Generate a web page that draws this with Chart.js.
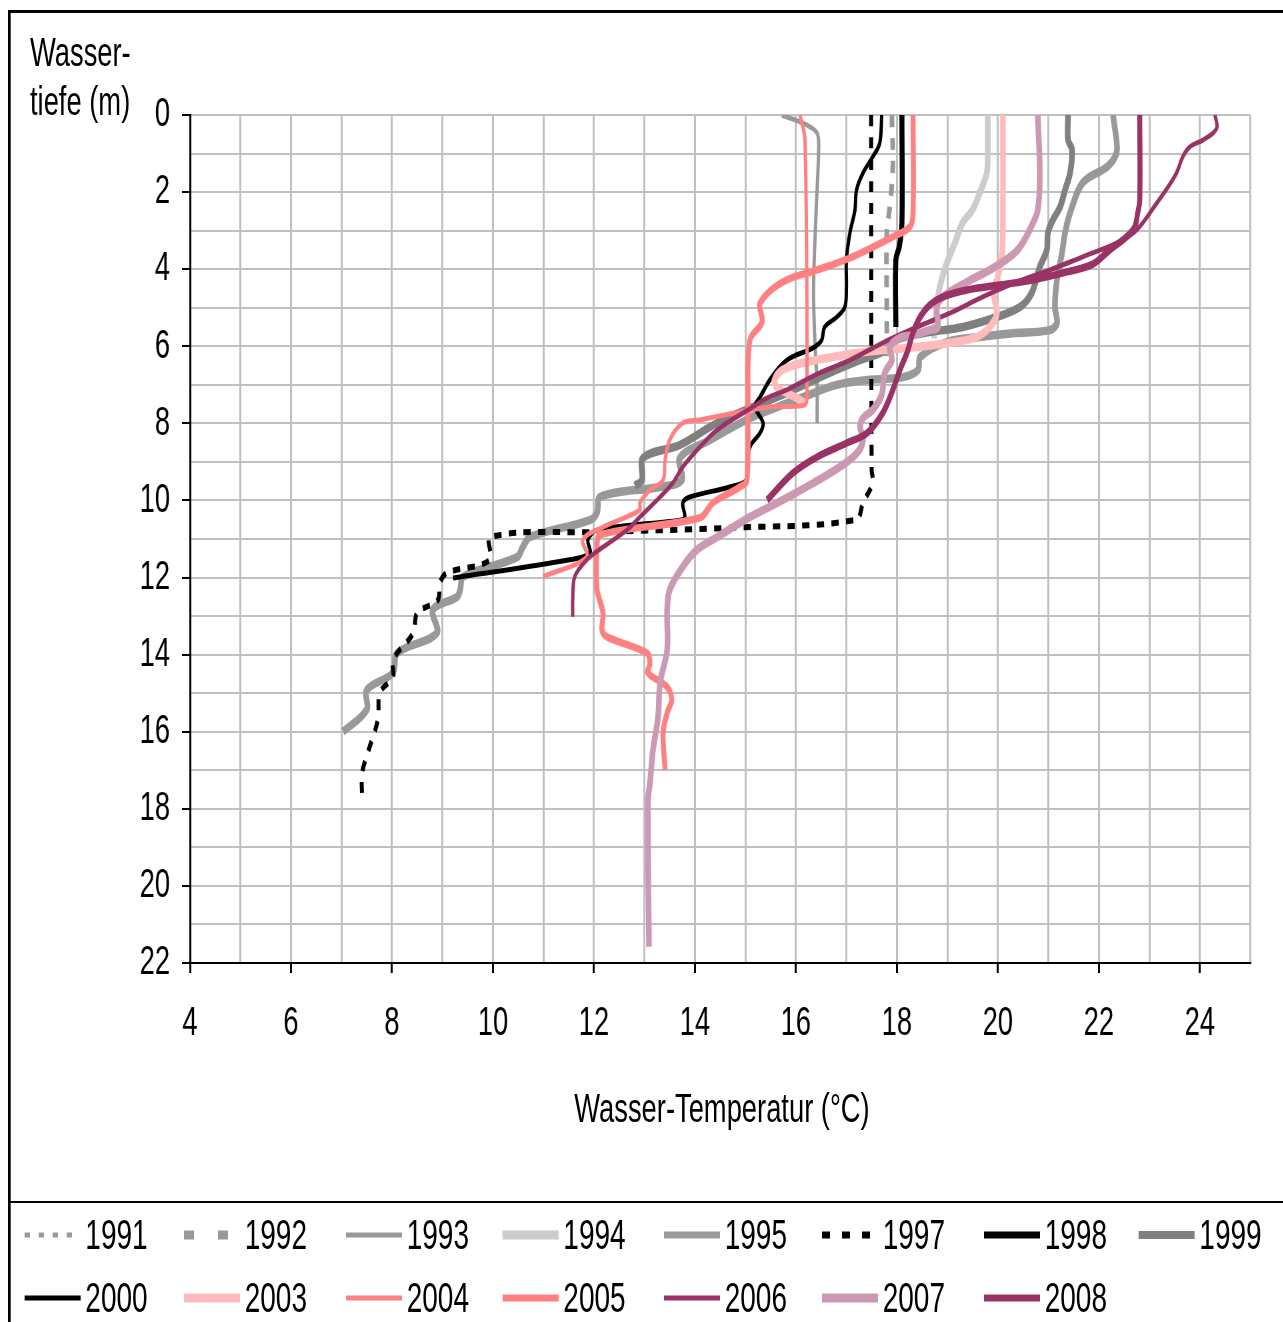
<!DOCTYPE html>
<html><head><meta charset="utf-8">
<script src="https://cdn.jsdelivr.net/npm/chart.js@4.4.1/dist/chart.umd.min.js"></script>
<style>
html,body{margin:0;padding:0;background:#fff;overflow:hidden;width:1283px;height:1322px;}
#wrap{position:absolute;left:0;top:0;width:1925px;height:1322px;overflow:hidden;transform:scaleX(0.6666667);transform-origin:0 0;font-family:"Liberation Sans",Arial,sans-serif;color:#000;}
#frame{position:absolute;left:12px;top:10px;width:1960px;height:1340px;border-top:3px solid #000;border-left:4px solid #000;box-sizing:border-box;}
#sep{position:absolute;left:12px;top:1201px;width:1960px;height:0;border-top:2px solid #000;}
#c{position:absolute;left:0;top:0;}
.txt{position:absolute;font-size:41px;line-height:1;white-space:nowrap;}
.leg{position:absolute;display:flex;align-items:center;height:44px;font-size:42px;white-space:nowrap;}
.leg canvas{display:block;}
</style></head><body>
<div id="wrap">
<div id="frame"></div><div id="sep"></div>
<canvas id="c" width="1925" height="1322"></canvas>
<div class="txt" style="left:45px;top:28px;line-height:49px">Wasser-<br>tiefe (m)</div>
<div class="txt" style="left:0;width:2166px;text-align:center;top:1088px;">Wasser-Temperatur (°C)</div>
<div id="legend"></div>
</div>
<script>
// ---- data: temperature (°C) and depth (m) per year ----
const temp1991 = [];
const depth1991 = [];
const temp1992 = [17.9, 17.92, 17.86, 17.8, 17.8, 17.78];
const depth1992 = [0, 1.35, 2.39, 3.06, 5.58, 6.45];
const temp1993 = [15.72, 16.2, 16.42, 16.45, 16.4, 16.35, 16.38, 16.42, 16.42];
const depth1993 = [0, 0.25, 0.47, 0.91, 2.5, 4.5, 6, 7, 8.0];
const temp1994 = [19.8, 19.8, 19.78, 19.64, 19.5, 19.3, 19.15, 18.99, 18.85, 18.79, 18.75, 18.73];
const depth1994 = [0, 0.9, 1.5, 2.02, 2.46, 2.8, 3.32, 3.84, 4.46, 4.98, 5.5, 5.8];
const temp1995 = [22.28, 22.36, 22.32, 22.16, 21.68, 21.43, 21.33, 21.27, 21.17, 21.13, 21.17, 21.03, 20.3, 19.64, 18.99, 18.46, 18.42, 18.12, 17.47, 16.81, 16.14, 15.49, 15.09, 14.3, 13.7, 13.74, 13.31, 12.12, 12.06, 11.92, 10.73, 10.59, 10.48, 9.41, 9.35, 9.29, 8.81, 8.89, 8.1, 8.02, 7.5, 7.5, 7.03];
const depth1995 = [0, 0.83, 1.09, 1.35, 1.76, 2.54, 3.06, 3.58, 4.28, 4.98, 5.4, 5.58, 5.66, 5.76, 5.89, 6.28, 6.61, 6.8, 6.87, 7.0, 7.32, 7.65, 7.86, 8.43, 8.9, 9.47, 9.65, 9.91, 10.32, 10.51, 10.95, 11.21, 11.47, 11.98, 12.32, 12.5, 12.84, 13.44, 13.96, 14.47, 14.92, 15.43, 16.0];
const temp1997 = [17.49, 17.5, 17.52, 17.33, 17.2, 14.69, 12.1, 9.94, 9.94, 9.09, 8.95, 8.91, 8.5, 8.42, 8.02, 8.02, 7.76, 7.72, 7.52, 7.41, 7.41];
const depth1997 = [0, 9.2, 9.55, 10.06, 10.5, 10.71, 10.82, 10.95, 11.54, 11.88, 12.14, 12.58, 12.92, 13.44, 14.14, 14.58, 14.99, 15.69, 16.55, 17.07, 17.77];
const temp1998 = [18.1, 18.1, 18.05, 17.98, 17.98];
const depth1998 = [0, 2.8, 3.4, 3.75, 5.5];
const temp1999 = [21.39, 21.39, 21.47, 21.43, 21.33, 21.23, 21.09, 20.99, 20.97, 20.83, 20.67, 20.44, 19.98, 19.31, 18.51, 17.98, 17.78, 17.13, 16.48, 15.82, 15.49, 14.44, 13.7, 12.97, 12.95, 12.81];
const depth1999 = [0, 0.65, 0.91, 1.5, 1.95, 2.39, 2.72, 3.06, 3.5, 3.94, 4.62, 4.98, 5.24, 5.5, 5.66, 5.84, 6.1, 6.43, 6.8, 7.21, 7.39, 7.99, 8.56, 8.9, 9.47, 9.62];
const temp2000 = [17.7, 17.66, 17.52, 17.33, 17.2, 17.17, 17.07, 17.0, 17.0, 16.97, 16.81, 16.57, 16.51, 16.34, 15.82, 15.52, 15.29, 15.19, 15.35, 15.29, 15.09, 15.03, 15.03, 14.69, 13.9, 13.76, 13.8, 13.7, 12.06, 11.88, 11.92, 11.52, 9.21];
const depth2000 = [0, 0.73, 1.09, 1.5, 1.95, 2.46, 3.06, 3.76, 4.46, 4.98, 5.24, 5.5, 5.84, 6.04, 6.36, 6.8, 7.32, 7.57, 7.99, 8.25, 8.61, 9.13, 9.47, 9.65, 9.91, 10.06, 10.43, 10.51, 10.77, 11.02, 11.36, 11.54, 12.01];
const temp2003 = [20.1, 20.1, 20.08, 19.98, 19.9, 19.98, 19.84, 19.58, 19.05, 18.4, 17.72, 17.07, 16.14, 15.74, 15.58, 15.62, 15.82, 16.08, 16.2];
const depth2003 = [0, 2.2, 3.68, 4.28, 4.54, 5.14, 5.5, 5.76, 5.91, 6.02, 6.1, 6.2, 6.43, 6.61, 6.87, 7.06, 7.21, 7.39, 7.5];
const temp2004 = [16.08, 16.18, 16.22, 16.18, 15.49, 14.1, 13.76, 13.5, 13.41, 13.37, 13.11, 12.91, 12.91, 12.18, 11.78, 11.86, 10.99];
const depth2004 = [0, 0.65, 7.26, 7.52, 7.57, 7.91, 7.99, 8.43, 8.95, 9.47, 9.73, 10.06, 10.25, 10.69, 11.02, 11.47, 11.98];
const temp2005 = [18.32, 18.32, 18.26, 17.92, 17.07, 16.42, 15.74, 15.29, 15.33, 15.09, 15.05, 15.03, 14.89, 14.36, 14.1, 12.12, 12.06, 12.06, 12.18, 12.16, 12.26, 13.05, 13.11, 13.07, 13.45, 13.54, 13.45, 13.37, 13.41];
const depth2005 = [0, 2.54, 2.9, 3.16, 3.71, 4.02, 4.33, 4.88, 5.37, 5.84, 7.39, 9.47, 9.65, 10.06, 10.45, 10.89, 11.21, 12.3, 12.92, 13.36, 13.54, 13.96, 14.22, 14.47, 14.84, 15.17, 15.51, 16.03, 16.99];
const temp2006 = [24.3, 24.34, 24.26, 24.06, 23.8, 23.66, 23.54, 23.37, 23.15, 22.75, 22.36, 21.68, 21.03, 20.38, 19.7, 19.05, 18.4, 17.72, 17.07, 16.42, 15.82, 15.43, 15.15, 14.44, 14.1, 13.76, 13.56, 13.31, 12.91, 12.65, 12.18, 11.86, 11.62, 11.58, 11.58];
const depth2006 = [0, 0.31, 0.47, 0.65, 0.83, 1.09, 1.5, 1.87, 2.28, 2.98, 3.32, 3.68, 4.02, 4.33, 4.72, 5.14, 5.5, 5.91, 6.36, 6.72, 7.13, 7.34, 7.57, 8.17, 8.61, 9.13, 9.55, 9.91, 10.43, 10.77, 11.21, 11.54, 11.98, 12.58, 13.02];
const temp2007 = [20.79, 20.83, 20.79, 20.63, 20.44, 20.24, 19.84, 19.39, 18.91, 18.79, 18.81, 18.65, 18.32, 18.06, 17.86, 17.9, 17.76, 17.7, 17.52, 17.33, 17.27, 17.33, 17.21, 16.87, 16.34, 15.74, 15.09, 14.44, 14.04, 13.76, 13.5, 13.45, 13.45, 13.31, 13.27, 13.17, 13.11, 13.07, 13.09];
const depth2007 = [0, 1.5, 2.46, 2.98, 3.42, 3.68, 4.02, 4.33, 4.72, 4.98, 5.5, 5.58, 5.71, 5.78, 6.02, 6.36, 6.69, 7.26, 7.65, 7.86, 8.09, 8.43, 8.77, 9.13, 9.55, 9.99, 10.43, 10.95, 11.28, 11.72, 12.32, 12.84, 13.88, 14.73, 15.62, 16.47, 17.33, 17.77, 21.58];
const temp2008 = [22.81, 22.81, 22.77, 22.71, 22.55, 22.22, 21.88, 21.37, 20.69, 20.04, 19.39, 18.91, 18.65, 18.46, 18.32, 18.2, 18.06, 17.92, 17.72, 17.41, 17.01, 16.42, 15.94, 15.43];
const depth2008 = [0, 2.2, 2.54, 2.9, 3.16, 3.5, 3.87, 4.07, 4.28, 4.41, 4.54, 4.72, 4.93, 5.24, 5.65, 6.17, 6.61, 7.13, 7.73, 8.25, 8.51, 8.87, 9.29, 9.99];

const years = ['1991','1992','1993','1994','1995','1997','1998','1999','2000','2003','2004','2005','2006','2007','2008'];
const xTickLabels = [4, 6, 8, 10, 12, 14, 16, 18, 20, 22, 24];
const yTickLabels = [0, 2, 4, 6, 8, 10, 12, 14, 16, 18, 20, 22];

const series = {
  '1991':[temp1991,depth1991],'1992':[temp1992,depth1992],'1993':[temp1993,depth1993],
  '1994':[temp1994,depth1994],'1995':[temp1995,depth1995],'1997':[temp1997,depth1997],
  '1998':[temp1998,depth1998],'1999':[temp1999,depth1999],'2000':[temp2000,depth2000],
  '2003':[temp2003,depth2003],'2004':[temp2004,depth2004],'2005':[temp2005,depth2005],
  '2006':[temp2006,depth2006],'2007':[temp2007,depth2007],'2008':[temp2008,depth2008]
};

// ---- styles (page is drawn 1.5x wide and compressed horizontally) ----
const styles = {
 '1991': {color:'#999999', width:4, dash:[4,8], legW:5, legDash:[8,13]},
 '1992': {color:'#999999', width:7, dash:[12,11], legW:9, legDash:[15,36]},
 '1993': {color:'#999999', width:5, dash:[], legW:5, legDash:[]},
 '1994': {color:'#cccccc', width:8.5, dash:[], legW:9, legDash:[]},
 '1995': {color:'#999999', width:8.5, dash:[], legW:7, legDash:[]},
 '1997': {color:'#000000', width:6, dash:[11,11], legW:7, legDash:[12,18]},
 '1998': {color:'#000000', width:7.5, dash:[], legW:7, legDash:[]},
 '1999': {color:'#808080', width:8.5, dash:[], legW:8, legDash:[]},
 '2000': {color:'#000000', width:5, dash:[], legW:5, legDash:[]},
 '2003': {color:'#ffbbbb', width:8.5, dash:[], legW:9, legDash:[]},
 '2004': {color:'#ff8080', width:5, dash:[], legW:5, legDash:[]},
 '2005': {color:'#ff8080', width:7.5, dash:[], legW:7, legDash:[]},
 '2006': {color:'#993366', width:5, dash:[], legW:5, legDash:[]},
 '2007': {color:'#cc99b3', width:8.5, dash:[], legW:9, legDash:[]},
 '2008': {color:'#993366', width:7.5, dash:[], legW:7, legDash:[]}
};

const FONT = '"Liberation Sans",Arial,sans-serif';

const datasets = years.map((y, i) => {
  const [t, d] = series[y];
  const st = styles[y];
  return {
    label: y,
    data: t.map((v, k) => ({x: v, y: d[k]})),
    showLine: true, fill: false,
    borderColor: st.color, backgroundColor: st.color,
    borderWidth: st.width, borderDash: st.dash,
    borderJoinStyle: 'round', borderCapStyle: 'butt',
    pointRadius: 0, pointHoverRadius: 0, pointHitRadius: 0,
    tension: 0.35,
    order: years.length - i
  };
});

new Chart(document.getElementById('c').getContext('2d'), {
  type: 'scatter',
  data: {datasets},
  options: {
    responsive: false, animation: false, devicePixelRatio: 1,
    layout: {padding: {left: 0, top: 115, right: 49.5, bottom: 0}},
    plugins: {legend: {display: false}, tooltip: {enabled: false}},
    scales: {
      x: {
        type: 'linear', position: 'bottom', min: 4, max: 25,
        ticks: {stepSize: 1, autoSkip: false, maxRotation: 0, minRotation: 0, padding: 26, color: '#000',
          font: {size: 41, family: FONT},
          callback: v => xTickLabels.includes(v) ? String(v) : ''},
        grid: {color: '#c0c0c0', lineWidth: 3, tickLength: 10, tickWidth: 3,
          tickColor: c => (c.tick && xTickLabels.includes(c.tick.value)) ? '#000' : 'rgba(0,0,0,0)'},
        border: {display: true, color: '#000', width: 2},
        afterFit: s => { s.height = 1322 - 963; }
      },
      y: {
        type: 'linear', position: 'left', reverse: true, min: 0, max: 22,
        ticks: {stepSize: 1, autoSkip: false, padding: 18, color: '#000',
          font: {size: 41, family: FONT},
          callback: v => yTickLabels.includes(v) ? String(v) : ''},
        grid: {color: '#c0c0c0', lineWidth: 2, tickLength: 12, tickWidth: 2,
          tickColor: c => (c.tick && yTickLabels.includes(c.tick.value)) ? '#000' : 'rgba(0,0,0,0)'},
        border: {display: true, color: '#000', width: 3},
        afterFit: s => { s.width = 285; }
      }
    }
  }
});

// ---- HTML legend built from the datasets ----
const legCols = [37, 276, 519, 754, 996, 1233, 1476, 1708];
const legRows = [1235, 1298];
const legend = document.getElementById('legend');
datasets.forEach((ds, i) => {
  const row = i < 8 ? 0 : 1, col = i < 8 ? i : i - 8;
  const st = styles[ds.label];
  const div = document.createElement('div');
  div.className = 'leg';
  div.style.left = legCols[col] + 'px';
  div.style.top = (legRows[row] - 22) + 'px';
  const cv = document.createElement('canvas');
  cv.width = 84; cv.height = 20;
  const g = cv.getContext('2d');
  g.strokeStyle = st.color; g.lineWidth = st.legW; g.setLineDash(st.legDash);
  g.beginPath(); g.moveTo(0, 10); g.lineTo(84, 10); g.stroke();
  const sp = document.createElement('span');
  sp.textContent = ds.label; sp.style.marginLeft = '7px';
  div.appendChild(cv); div.appendChild(sp);
  legend.appendChild(div);
});
</script>
</body></html>
